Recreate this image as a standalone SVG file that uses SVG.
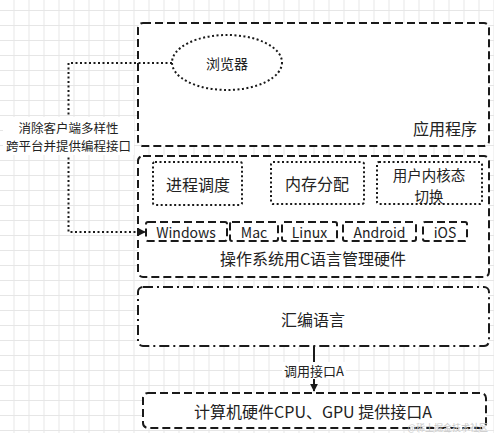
<svg xmlns="http://www.w3.org/2000/svg" width="494" height="433" viewBox="0 0 494 433">
<defs>
<pattern id="grid" x="13.5" y="10" width="15" height="15" patternUnits="userSpaceOnUse">
<path d="M0 0.5 H15 M0.5 0 V15" fill="none" stroke="#e6e6e6" stroke-width="1"/>
</pattern>
<marker id="arr" viewBox="0 0 10 10" refX="9" refY="5" markerWidth="8" markerHeight="8" markerUnits="userSpaceOnUse" orient="auto">
<path d="M0 0 L10 5 L0 10 Z" fill="#1a1a1a"/>
</marker>
<style>
.dash{fill:#fff;stroke:#1a1a1a;stroke-width:2;stroke-dasharray:8 4}
.dot{fill:#fff;stroke:#1a1a1a;stroke-width:2;stroke-dasharray:2 2.5}
.dashdot{fill:#fff;stroke:#1a1a1a;stroke-width:2;stroke-dasharray:10 4 2 4}
.t{font-family:"Noto Sans CJK SC","Noto Sans",sans-serif;fill:#222;text-anchor:middle;dominant-baseline:central}
.s16{font-size:16px}
.s14{font-size:14px}
.s13{font-size:13px}
</style>
</defs>
<rect width="494" height="433" fill="#fff"/>
<rect width="494" height="433" fill="url(#grid)"/>

<g id="app">
<rect class="dash" x="138" y="23" width="351" height="123" rx="5"/>
<text class="t s16" x="445" y="128">应用程序</text>
</g>
<g id="browser">
<ellipse class="dot" cx="227" cy="62.5" rx="55" ry="27.5"/>
<text class="t s14" x="227" y="63">浏览器</text>
</g>

<g id="os">
<rect class="dash" x="138" y="156" width="351" height="121" rx="5"/>
<text class="t s16" x="313" y="258">操作系统用C语言管理硬件</text>
</g>
<g id="sched">
<rect class="dot" x="153" y="162" width="89" height="43" rx="2"/>
<text class="t s16" x="198" y="184">进程调度</text>
</g>
<g id="mem">
<rect class="dot" x="271" y="162" width="93" height="42" rx="2"/>
<text class="t s16" x="317" y="183">内存分配</text>
</g>
<g id="usrkern">
<rect class="dot" x="377" y="162" width="105" height="42" rx="2"/>
<text class="t" font-size="14.5" x="429" y="174"><tspan x="429" y="174">用户内核态</tspan><tspan x="429" y="195">切换</tspan></text>
</g>
<g id="windows">
<rect class="dash" x="146" y="222" width="81" height="19" rx="2"/>
<text class="t s14" x="186" y="231.5">Windows</text>
</g>
<g id="mac">
<rect class="dash" x="230" y="222" width="48" height="19" rx="2"/>
<text class="t s14" x="254" y="231.5">Mac</text>
</g>
<g id="linux">
<rect class="dash" x="282" y="222" width="55" height="19" rx="2"/>
<text class="t s14" x="309.5" y="231.5">Linux</text>
</g>
<g id="android">
<rect class="dash" x="343" y="222" width="73" height="19" rx="2"/>
<text class="t s14" x="379.5" y="231.5">Android</text>
</g>
<g id="ios">
<rect class="dash" x="423" y="222" width="44" height="19" rx="2"/>
<text class="t s14" x="445" y="231.5">iOS</text>
</g>

<g id="asm">
<rect class="dashdot" x="138" y="287" width="351" height="59" rx="5"/>
<text class="t s16" x="313" y="319">汇编语言</text>
</g>
<g id="hw">
<rect class="dash" x="143" y="393" width="343" height="35" rx="5"/>
<text class="t s16" x="313" y="411">计算机硬件CPU、GPU 提供接口A</text>
</g>

<g id="connectors">
<path d="M172 63 H68.5 V232 H145" fill="none" stroke="#1a1a1a" stroke-width="2" stroke-dasharray="2 2.5" marker-end="url(#arr)"/>
<rect x="3" y="117" width="131" height="38" fill="#fff"/>
<text class="t" font-size="12.5" x="68.5" y="126.5"><tspan x="68.5" y="126.5">消除客户端多样性</tspan><tspan x="68.5" y="145">跨平台并提供编程接口</tspan></text>
<path d="M314 346 V391" fill="none" stroke="#1a1a1a" stroke-width="2" marker-end="url(#arr)"/>
<rect x="282" y="362" width="64" height="17" fill="#fff"/>
<text class="t s13" x="314" y="370.5">调用接口A</text>
</g>
<text x="488" y="431" font-family="'Noto Sans CJK SC',sans-serif" font-size="9" fill="#c8c8c8" text-anchor="end">@稀土掘金技术社区</text>
</svg>
